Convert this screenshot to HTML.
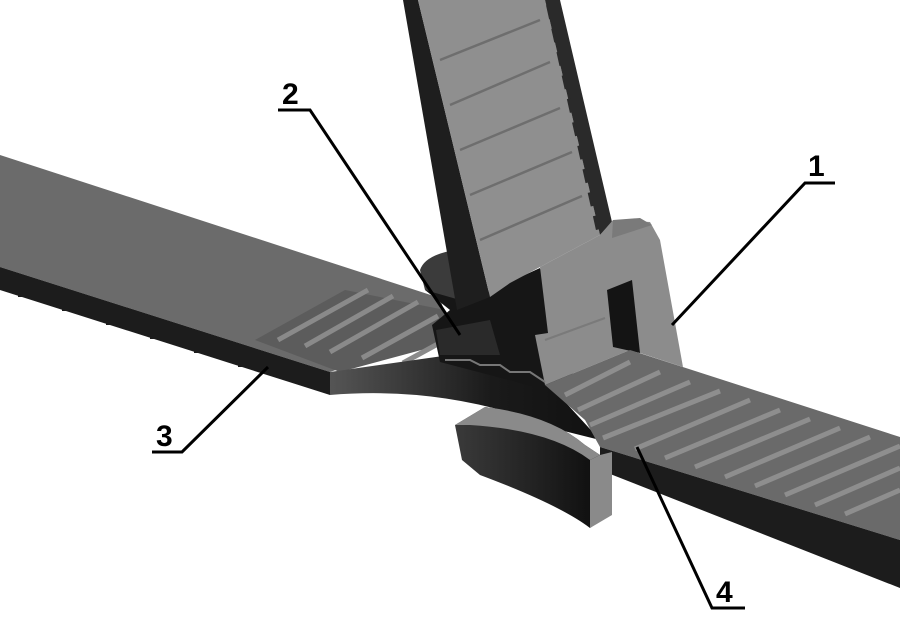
<!DOCTYPE html>
<html><head><meta charset="utf-8"><style>
html,body{margin:0;padding:0;background:#fff;width:900px;height:637px;overflow:hidden}
svg{display:block}
text{font-family:"Liberation Sans",sans-serif;font-weight:bold;font-size:30px;fill:#000}
</style></head><body>
<svg width="900" height="637" viewBox="0 0 900 637" xmlns="http://www.w3.org/2000/svg">
<defs>
<linearGradient id="dk" x1="0" y1="0" x2="1" y2="0"><stop offset="0" stop-color="#3a3a3a"/><stop offset="1" stop-color="#0e0e0e"/></linearGradient>
<linearGradient id="dk2" x1="0" y1="0" x2="1" y2="0"><stop offset="0" stop-color="#555"/><stop offset="0.6" stop-color="#1a1a1a"/><stop offset="1" stop-color="#111"/></linearGradient>
</defs>
<!-- left strap -->
<polygon points="0,155 440,298 450,330 330,372 0,267" fill="#6b6b6b"/>
<polygon points="0,267 330,372 330,395 0,290" fill="#1c1c1c"/>
<g fill="#1c1c1c">
<rect x="18" y="292" width="6" height="5"/><rect x="62" y="306" width="6" height="5"/><rect x="106" y="320" width="6" height="5"/><rect x="150" y="334" width="6" height="5"/><rect x="194" y="348" width="6" height="5"/><rect x="238" y="362" width="6" height="5"/>
</g>
<polygon points="255,340 345,290 445,310 440,345 340,372" fill="#5c5c5c"/>
<g stroke="#8a8a8a" stroke-width="5">
<line x1="278" y1="340" x2="368" y2="290"/><line x1="305" y1="346" x2="393" y2="296"/><line x1="330" y1="352" x2="418" y2="302"/><line x1="362" y1="358" x2="438" y2="316"/><line x1="403" y1="363" x2="445" y2="340"/>
</g>
<!-- curved connection left -->
<path d="M330,372 L450,355 L545,380 L600,440 L560,430 Q450,385 330,395 Z" fill="url(#dk2)"/>
<!-- head back dark -->
<polygon points="425,268 470,255 470,300 540,268 560,330 600,300 610,340 560,385 540,388 440,362 432,325 450,310 425,290" fill="#161616"/>
<path d="M420,270 Q425,255 455,250 L460,300 L425,290 Z" fill="#3b3b3b"/>
<!-- vertical strap -->
<polygon points="403,0 418,0 490,297 457,310" fill="#1e1e1e"/>
<polygon points="418,0 545,0 600,235 540,267 510,283 490,297" fill="#8f8f8f"/>
<polygon points="545,0 560,0 612,222 600,235" fill="#2a2a2a"/>
<g stroke="#2a2a2a" stroke-width="4" stroke-dasharray="14 10"><line x1="548" y1="5" x2="598" y2="230"/></g>
<g stroke="#6e6e6e" stroke-width="2.5">
<line x1="440" y1="60" x2="540" y2="20"/><line x1="450" y1="105" x2="550" y2="62"/><line x1="460" y1="150" x2="560" y2="108"/><line x1="470" y1="195" x2="572" y2="152"/><line x1="480" y1="240" x2="582" y2="196"/>
</g>
<!-- head front -->
<polygon points="540,267 600,235 613,220 650,222 660,240 683,367 640,353 630,350 545,385 535,335 548,333" fill="#8c8c8c"/>
<polygon points="607,290 632,280 640,353 613,347" fill="#141414"/>
<polygon points="613,220 640,218 652,225 612,238" fill="#7a7a7a"/>
<line x1="545" y1="340" x2="605" y2="318" stroke="#7a7a7a" stroke-width="2"/>
<!-- notch/step -->
<polygon points="436,330 490,320 500,355 440,355" fill="#2a2a2a"/>
<polyline points="445,360 470,360 480,365 500,365 510,372 530,372 545,382" fill="none" stroke="#777" stroke-width="2"/>
<!-- right strap -->
<polygon points="545,385 630,350 900,437 900,540 600,447 585,420" fill="#6a6a6a"/>
<polygon points="600,447 900,540 900,588 600,470" fill="#1c1c1c"/>
<g stroke="#8e8e8e" stroke-width="5">
<line x1="565" y1="395" x2="630" y2="362"/><line x1="578" y1="410" x2="660" y2="372"/><line x1="590" y1="425" x2="690" y2="382"/><line x1="603" y1="438" x2="720" y2="391"/><line x1="635" y1="449" x2="750" y2="400"/><line x1="665" y1="458" x2="780" y2="410"/><line x1="695" y1="467" x2="810" y2="419"/><line x1="725" y1="477" x2="840" y2="428"/><line x1="755" y1="486" x2="870" y2="437"/><line x1="785" y1="495" x2="900" y2="446"/><line x1="815" y1="505" x2="900" y2="468"/><line x1="845" y1="514" x2="900" y2="490"/>
</g>
<!-- lower curved block -->
<path d="M455,425 L485,407 Q550,415 585,445 L600,455 L600,520 L590,528 Q560,505 480,475 L462,460 Z" fill="url(#dk)"/>
<path d="M455,425 L485,407 Q550,415 585,445 L600,455 L590,460 Q550,430 470,425 Z" fill="#8a8a8a"/>
<polygon points="590,460 600,455 612,452 612,515 590,528" fill="#8a8a8a"/>
<!-- leaders -->
<g stroke="#000" stroke-width="3" fill="none">
<polyline points="278,110 310,110 460,335"/>
<polyline points="835,183 805,183 672,325"/>
<polyline points="152,452 182,452 268,367"/>
<polyline points="745,608 712,608 637,447"/>
</g>
<text x="282" y="104">2</text>
<text x="808" y="176">1</text>
<text x="156" y="446">3</text>
<text x="716" y="602">4</text>
</svg>
</body></html>
